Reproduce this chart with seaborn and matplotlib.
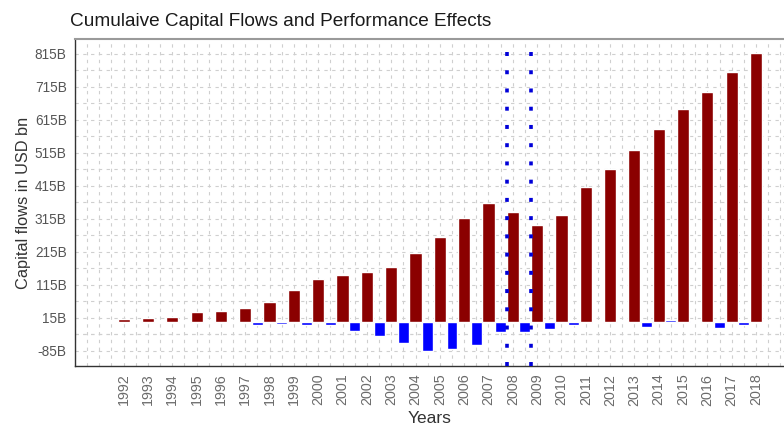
import numpy as np
import pandas as pd
import matplotlib
matplotlib.use("Agg")
import matplotlib.pyplot as plt
from matplotlib.ticker import MultipleLocator, FixedLocator
import seaborn as sns

# cumulative capital flows (red) and performance effects (blue), USD bn
years = list(range(1992, 2019))
capital_flows = [10, 14, 18, 32, 35, 45, 63, 100, 132, 145, 152, 169, 211, 259,
                 317, 363, 334, 297, 327, 410, 466, 522, 587, 649, 698, 759, 818]
perf_years = list(range(1992, 2018))
perf_effects = [0, 0, -2, -2, 0, -7, -4, -7, -7, -27, -41, -62, -86, -79, -68,
                -30, -30, -20, -7, -3, 3, -13, 9, 5, -16, -7]
crisis_lines = [2007.75, 2008.75]
ytick_vals = [-85, 15, 115, 215, 315, 415, 515, 615, 715, 815]
ytick_labels = [f"{v}B" for v in ytick_vals]

sns.set_style("white")
plt.rcParams['font.family'] = ['Liberation Sans', 'DejaVu Sans']

df_red = pd.DataFrame({'year': years, 'value': capital_flows})
df_blue = pd.DataFrame({'year': [y + 0.5 for y in perf_years], 'value': perf_effects})

fig = plt.figure(figsize=(7.84, 4.30), dpi=100)
ax = fig.add_axes([75 / 784, 64 / 430, 1 - 75 / 784, (366 - 39) / 430])

sns.barplot(data=df_red, x='year', y='value', native_scale=True, width=0.5,
            color='#8B0000', saturation=1, errorbar=None, ax=ax, zorder=3)
sns.barplot(data=df_blue, x='year', y='value', native_scale=True, width=0.45,
            color='#0000FF', saturation=1, errorbar=None, ax=ax, zorder=3)

# dotted markers around the 2008 crisis
for xv in crisis_lines:
    ax.axvline(xv, color='#0000D8', linewidth=2.6, linestyle=(0, (1.1, 3.95)),
               dash_capstyle='butt', zorder=4)

ax.set_xlim(1990, 2019.15)
ax.set_ylim(-132, 860)

ax.xaxis.set_major_locator(FixedLocator(years))
ax.set_xticklabels([str(y) for y in years], rotation=90, fontsize=10.3, color='#6b6b6b')
ax.xaxis.set_minor_locator(MultipleLocator(0.5))
ax.yaxis.set_major_locator(FixedLocator(ytick_vals))
ax.set_yticklabels(ytick_labels, fontsize=9.8, color='#555555')
ax.yaxis.set_minor_locator(FixedLocator([v + 50 for v in [-85] + ytick_vals]))

ax.tick_params(axis='both', which='major', length=4, width=0.8, color='#555555', pad=2)
ax.tick_params(axis='x', which='major', pad=1.5)
ax.tick_params(axis='both', which='minor', length=0)

ax.grid(True, which='both', color='#cfcfcf', linestyle=(0, (3, 4)), linewidth=0.8, zorder=0)
ax.set_axisbelow(True)

for side in ['left', 'bottom']:
    ax.spines[side].set_color('#333333')
    ax.spines[side].set_linewidth(1.0)
ax.spines['top'].set_color('#9a9a9a')
ax.spines['top'].set_linewidth(1.5)
ax.spines['right'].set_visible(False)

ax.set_xlabel('Years', fontsize=12.5, color='#333333', labelpad=4)
ax.set_ylabel('Capital flows in USD bn', fontsize=11.8, color='#333333', labelpad=3)
fig.text(70 / 784, 1 - 22 / 430, 'Cumulaive Capital Flows and Performance Effects',
         fontsize=13.7, color='#1a1a1a', ha='left', va='center')

fig.savefig('out.png', dpi=100)
